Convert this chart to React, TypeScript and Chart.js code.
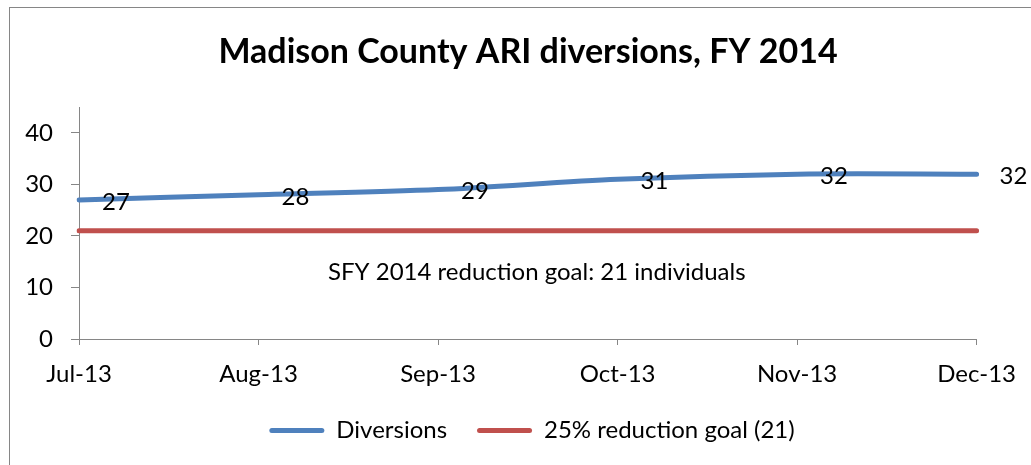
import React, { useEffect, useRef } from "react";
import { Chart, registerables } from "chart.js";

Chart.register(...registerables);

const categories = ["Jul-13", "Aug-13", "Sep-13", "Oct-13", "Nov-13", "Dec-13"];
const diversions = [27, 28, 29, 31, 32, 32];
const reductionGoal = [21, 21, 21, 21, 21, 21];
const seriesNames = ["Diversions", "25% reduction goal (21)"];
const titleText = "Madison County ARI diversions, FY 2014";
const annotationText = "SFY 2014 reduction goal: 21 individuals";
const yTicks = { min: 0, max: 45, step: 10 };

const FONT = "Lato, 'Open Sans', sans-serif";
const BLUE = "#4F81BD";
const RED = "#C0504D";
const GRAY = "#868686";

const textPlugin = {
  id: "textPlugin",
  afterLayout(chart: any) {
    if (chart.legend) {
      chart.legend.left += 37;
      chart.legend.right += 37;
    }
    if (chart.titleBlock) {
      chart.titleBlock.left += 33;
      chart.titleBlock.right += 33;
    }
  },
  afterDatasetsDraw(chart: any) {
    const ctx = chart.ctx;
    const meta = chart.getDatasetMeta(0);
    ctx.save();
    ctx.font = `24px ${FONT}`;
    ctx.fillStyle = "#000";
    ctx.textAlign = "left";
    ctx.textBaseline = "middle";
    meta.data.forEach((pt: any, i: number) => {
      ctx.fillText(String(diversions[i]), pt.x + 23, pt.y + 2);
    });
    const yPix = chart.scales.y.getPixelForValue(reductionGoal[0]);
    ctx.textAlign = "center";
    const cx = (chart.chartArea.left + chart.chartArea.right) / 2 + 9;
    ctx.fillText(annotationText, cx, yPix + 41);
    ctx.restore();
  },
};

export default function App() {
  const ref = useRef<HTMLCanvasElement | null>(null);
  useEffect(() => {
    if (!ref.current) return;
    const chart = new Chart(ref.current, {
      type: "line",
      data: {
        labels: categories,
        datasets: [
          {
            label: seriesNames[0],
            data: diversions,
            borderColor: BLUE,
            backgroundColor: BLUE,
            borderWidth: 5,
            borderCapStyle: "round",
            pointRadius: 0,
            tension: 0.3,
          },
          {
            label: seriesNames[1],
            data: reductionGoal,
            borderColor: RED,
            backgroundColor: RED,
            borderWidth: 5,
            borderCapStyle: "round",
            pointRadius: 0,
          },
        ],
      },
      options: {
        responsive: false,
        animation: false,
        layout: { padding: { top: 10, left: 10, right: 51, bottom: 12.5 } },
        plugins: {
          title: {
            display: true,
            text: titleText,
            color: "#000",
            font: { family: FONT, size: 34, weight: "bold" },
            padding: { top: 22, bottom: 34.4 },
          },
          legend: {
            position: "bottom",
            labels: {
              color: "#000",
              font: { family: FONT, size: 24 },
              boxWidth: 55,
              boxHeight: 5,
              useBorderRadius: true,
              borderRadius: 2.5,
              padding: 30,
              generateLabels: (c: any) =>
                (Chart as any).defaults.plugins.legend.labels
                  .generateLabels(c)
                  .map((l: any) => ({ ...l, lineWidth: 0 })),
            },
          },
          tooltip: { enabled: false },
        },
        scales: {
          x: {
            offset: false,
            grid: { drawOnChartArea: false, tickLength: 6, color: GRAY },
            border: { color: GRAY },
            ticks: {
              color: "#000",
              font: { family: FONT, size: 24 },
              padding: 15,
              maxRotation: 0,
              autoSkip: false,
            },
            afterFit: (s: any) => {
              s.height = 49.5;
            },
          },
          y: {
            min: yTicks.min,
            max: yTicks.max,
            grid: { drawOnChartArea: false, tickLength: 8, color: GRAY },
            border: { color: GRAY },
            ticks: {
              stepSize: yTicks.step,
              includeBounds: false,
              color: "#000",
              font: { family: FONT, size: 24 },
              padding: 18,
            },
            afterFit: (s: any) => {
              s.width = 69;
            },
          },
        },
      },
      plugins: [textPlugin],
    } as any);
    return () => chart.destroy();
  }, []);

  return (
    <div>
      <div
        style={{
          position: "fixed",
          left: 9,
          top: 7,
          width: 1100,
          height: 600,
          border: `1px solid ${GRAY}`,
          pointerEvents: "none",
        }}
      />
      <canvas
        ref={ref}
        width={1031}
        height={465}
        style={{ position: "fixed", left: 0, top: 0, width: 1031, height: 465 }}
      />
    </div>
  );
}
